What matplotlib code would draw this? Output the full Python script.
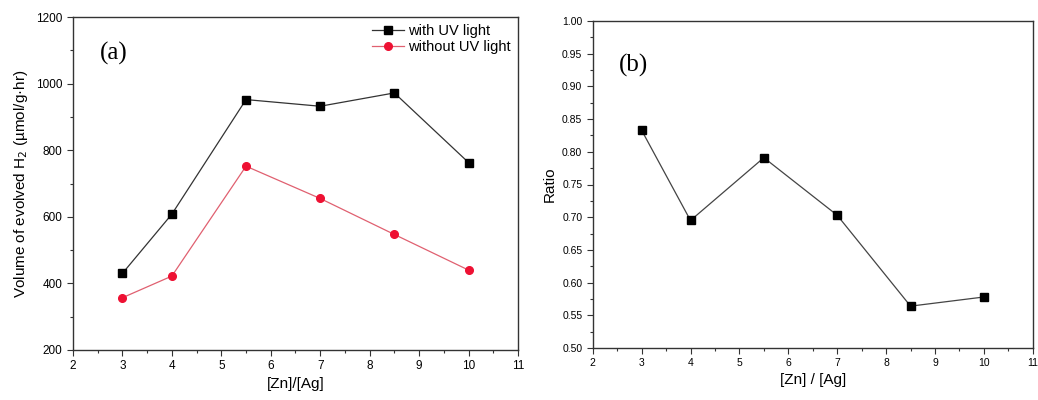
import numpy as np
import matplotlib.pyplot as plt
from matplotlib.ticker import MultipleLocator

# [Zn]/[Ag] ratios
zn_ag = [3, 4, 5.5, 7, 8.5, 10]

# evolved H2 (umol/g.hr)
with_uv = [430, 608, 952, 932, 972, 763]
without_uv = [357, 422, 752, 655, 547, 440]

# ratio without / with
ratio = [0.833, 0.695, 0.791, 0.703, 0.564, 0.578]

plt.rcParams['font.family'] = ['Liberation Sans', 'DejaVu Sans']

fig = plt.figure(figsize=(10.38, 4.0), dpi=100)
ax1 = fig.add_axes([0.0703, 0.125, 0.4287, 0.8325])
ax2 = fig.add_axes([0.571, 0.13, 0.424, 0.8175])

def style(ax, lsize):
    ax.tick_params(which='both', direction='out', labelsize=lsize, width=0.8, color='#333333')
    ax.tick_params(which='major', length=4)
    ax.tick_params(which='minor', length=2.5)
    for s in ax.spines.values():
        s.set_linewidth(1.0)
        s.set_color('#333333')
    ax.set_xlim(2, 11)
    ax.xaxis.set_major_locator(MultipleLocator(1))
    ax.xaxis.set_minor_locator(MultipleLocator(0.5))

# panel (a)
ax1.plot(zn_ag, with_uv, '-s', color='#333333', lw=0.9, ms=5.5,
         mfc='black', mec='black', label='with UV light')
ax1.plot(zn_ag, without_uv, '-o', color='#e06070', lw=0.9, ms=5.5,
         mfc='#ee1133', mec='#ee1133', label='without UV light')
ax1.set_ylim(200, 1200)
ax1.yaxis.set_major_locator(MultipleLocator(200))
ax1.yaxis.set_minor_locator(MultipleLocator(100))
style(ax1, 8.5)
ax1.set_xlabel('[Zn]/[Ag]', fontsize=11, labelpad=3)
ax1.set_ylabel('Volume of evolved H$_2$ (\u00b5mol/g\u00b7hr)', fontsize=11, labelpad=4)
ax1.text(0.092, 0.89, '(a)', transform=ax1.transAxes, fontsize=18,
         family='Liberation Serif', ha='center', va='center')
ax1.legend(loc='upper right', frameon=False, fontsize=10.5, handlelength=2.2,
           handletextpad=0.3, borderaxespad=0.1, labelspacing=0.15)

# panel (b)
ax2.plot(zn_ag, ratio, '-s', color='#444444', lw=0.9, ms=5.5, mfc='black', mec='black')
ax2.set_ylim(0.5, 1.0)
ax2.yaxis.set_major_locator(MultipleLocator(0.05))
ax2.yaxis.set_minor_locator(MultipleLocator(0.025))
ax2.yaxis.set_major_formatter(plt.FormatStrFormatter('%.2f'))
style(ax2, 7.5)
ax2.set_xlabel('[Zn] / [Ag]', fontsize=11, labelpad=3)
ax2.set_ylabel('Ratio', fontsize=11, labelpad=4)
ax2.text(0.093, 0.865, '(b)', transform=ax2.transAxes, fontsize=18,
         family='Liberation Serif', ha='center', va='center')

fig.savefig('out.png', dpi=100)
